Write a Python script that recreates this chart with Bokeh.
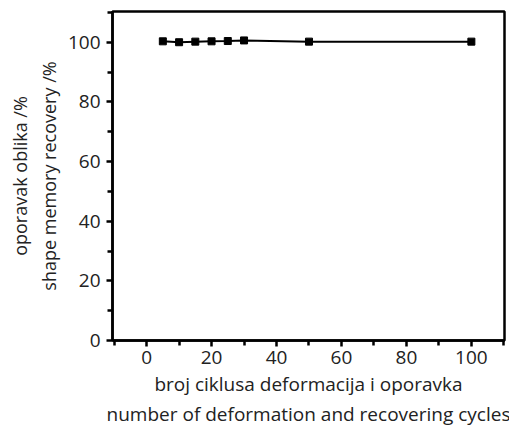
from bokeh.plotting import figure
from bokeh.models import FixedTicker, Range1d, Title
from bokeh.embed import file_html
from bokeh.resources import INLINE

cycles = [5, 10, 15, 20, 25, 30, 50, 100]
recovery = [100.3, 100.0, 100.2, 100.3, 100.4, 100.6, 100.2, 100.2]

x_major = [0, 20, 40, 60, 80, 100]
x_minor = [-10, 10, 30, 50, 70, 90, 110]
y_major = [0, 20, 40, 60, 80, 100]
y_minor = [10, 30, 50, 70, 90, 110]

x_label_lines = ["broj ciklusa deformacija i oporavka",
                 "number of deformation and recovering cycles"]
y_label_lines = ["oporavak oblika /%", "shape memory recovery /%"]

FONT = "Open Sans"
TXT = "#222222"

p = figure(frame_width=392, frame_height=329,
           min_border_left=112, min_border_right=5, min_border_top=11, min_border_bottom=88,
           x_range=Range1d(-10.5, 110.2), y_range=Range1d(0, 110.3),
           output_backend="svg", toolbar_location=None)

p.line(cycles, recovery, line_color="black", line_width=2)
p.scatter(cycles, recovery, marker="square", size=7, color="black")

p.xgrid.visible = False
p.ygrid.visible = False
p.outline_line_color = "black"
p.outline_line_width = 2.5
p.outline_line_alpha = 1

p.xaxis.ticker = FixedTicker(ticks=x_major, minor_ticks=x_minor)
p.yaxis.ticker = FixedTicker(ticks=y_major, minor_ticks=y_minor)

for ax in (p.xaxis, p.yaxis):
    ax.axis_line_width = 2.5
    ax.axis_line_color = "black"
    ax.major_tick_line_width = 2.5
    ax.minor_tick_line_width = 2.5
    ax.major_tick_out = 6
    ax.major_tick_in = 0
    ax.minor_tick_out = 5
    ax.minor_tick_in = 0
    ax.major_label_text_font = FONT
    ax.major_label_text_font_size = "19px"
    ax.major_label_text_color = TXT

p.xaxis.major_label_standoff = 4
p.yaxis.major_label_standoff = 6

# x label lines (stacked outward from the axis)
x_standoffs = [4, 0]
for line, so in zip(x_label_lines, x_standoffs):
    p.add_layout(Title(text=line, align="center", text_font=FONT, text_font_size="19px",
                       text_font_style="normal", text_color=TXT, standoff=so), "below")

# y label lines (first item added is nearest the axis)
y_standoffs = [0, 7]
for line, so in zip(reversed(y_label_lines), reversed(y_standoffs)):
    p.add_layout(Title(text=line, align="center", text_font=FONT, text_font_size="18px",
                       text_font_style="normal", text_color=TXT, standoff=so), "left")

open("out.html", "w").write(file_html(p, INLINE))
